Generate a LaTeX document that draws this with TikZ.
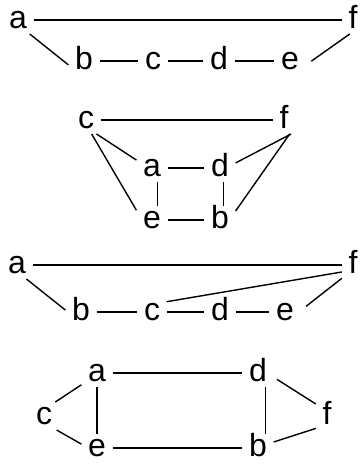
\documentclass[tikz,border=0pt]{standalone}
\usepackage{fontspec}
\setmainfont{Liberation Sans}

\begin{document}
\begin{tikzpicture}[x=1pt, y=-1pt, line width=1.4pt, vtx/.style={inner xsep=6pt, inner ysep=5pt, text height=16.6pt, text depth=0pt, font=\fontsize{32}{38}\selectfont}]
	\useasboundingbox (0,0) rectangle (364,466);
	\node [vtx] (a1) at (18,20) {a};
	\node [vtx] (f1) at (353,20) {f};
	\node [vtx] (b1) at (84,61) {b};
	\node [vtx] (c1) at (153,61) {c};
	\node [vtx] (d1) at (219,61) {d};
	\node [vtx] (e1) at (290,61) {e};
	\draw (a1) -- (f1);
	\draw (a1.-50) -- (b1.194);
	\draw (b1) -- (c1);
	\draw (c1) -- (d1);
	\draw (d1) -- (e1);
	\draw [shorten <=7pt] (e1.-15) -- (f1.-103);
	\node [vtx] (c2) at (86,120) {c};
	\node [vtx] (f2) at (284,120) {f};
	\node [vtx] (a2) at (152,168) {a};
	\node [vtx] (d2) at (220,168) {d};
	\node [vtx] (e2) at (152,220) {e};
	\node [vtx] (b2) at (220,220) {b};
	\draw (c2) -- (f2);
	\draw (c2.-53) -- (a2.153);
	\draw (c2.-68) -- (e2.148);
	\draw (a2) -- (d2);
	\draw (a2.-69) -- (e2.69);
	\draw (e2) -- (b2);
	\draw (d2.-77) -- (b2.77);
	\draw (f2.-63) -- (d2.18);
	\draw (f2.-68) -- (b2.30);
	\node [vtx] (a3) at (17,265) {a};
	\node [vtx] (f3) at (353,265) {f};
	\node [vtx] (b3) at (81,312) {b};
	\node [vtx] (c3) at (152,312) {c};
	\node [vtx] (d3) at (220,312) {d};
	\node [vtx] (e3) at (285,312) {e};
	\draw (a3) -- (f3);
	\draw (a3.-56) -- (b3.173);
	\draw (b3) -- (c3);
	\draw (c3) -- (d3);
	\draw (d3) -- (e3);
	\draw (c3.35) -- (f3.212);
	\draw [shorten <=7pt] (e3.5) -- (f3.230);
	\node [vtx] (a4) at (97,373) {a};
	\node [vtx] (d4) at (258,373) {d};
	\node [vtx] (c4) at (44,416) {c};
	\node [vtx] (f4) at (327,416) {f};
	\node [vtx] (e4) at (97,448) {e};
	\node [vtx] (b4) at (258,448) {b};
	\draw (c4.51) -- (a4.217);
	\draw (c4.-48) -- (e4.166);
	\draw (a4) -- (d4);
	\draw (a4) -- (e4);
	\draw (e4) -- (b4);
	\draw (d4.-62) -- (b4.62);
	\draw [shorten <=4pt] (d4.-15) -- (f4.133);
	\draw (b4.21) -- (f4.228);
\end{tikzpicture}
\end{document}
